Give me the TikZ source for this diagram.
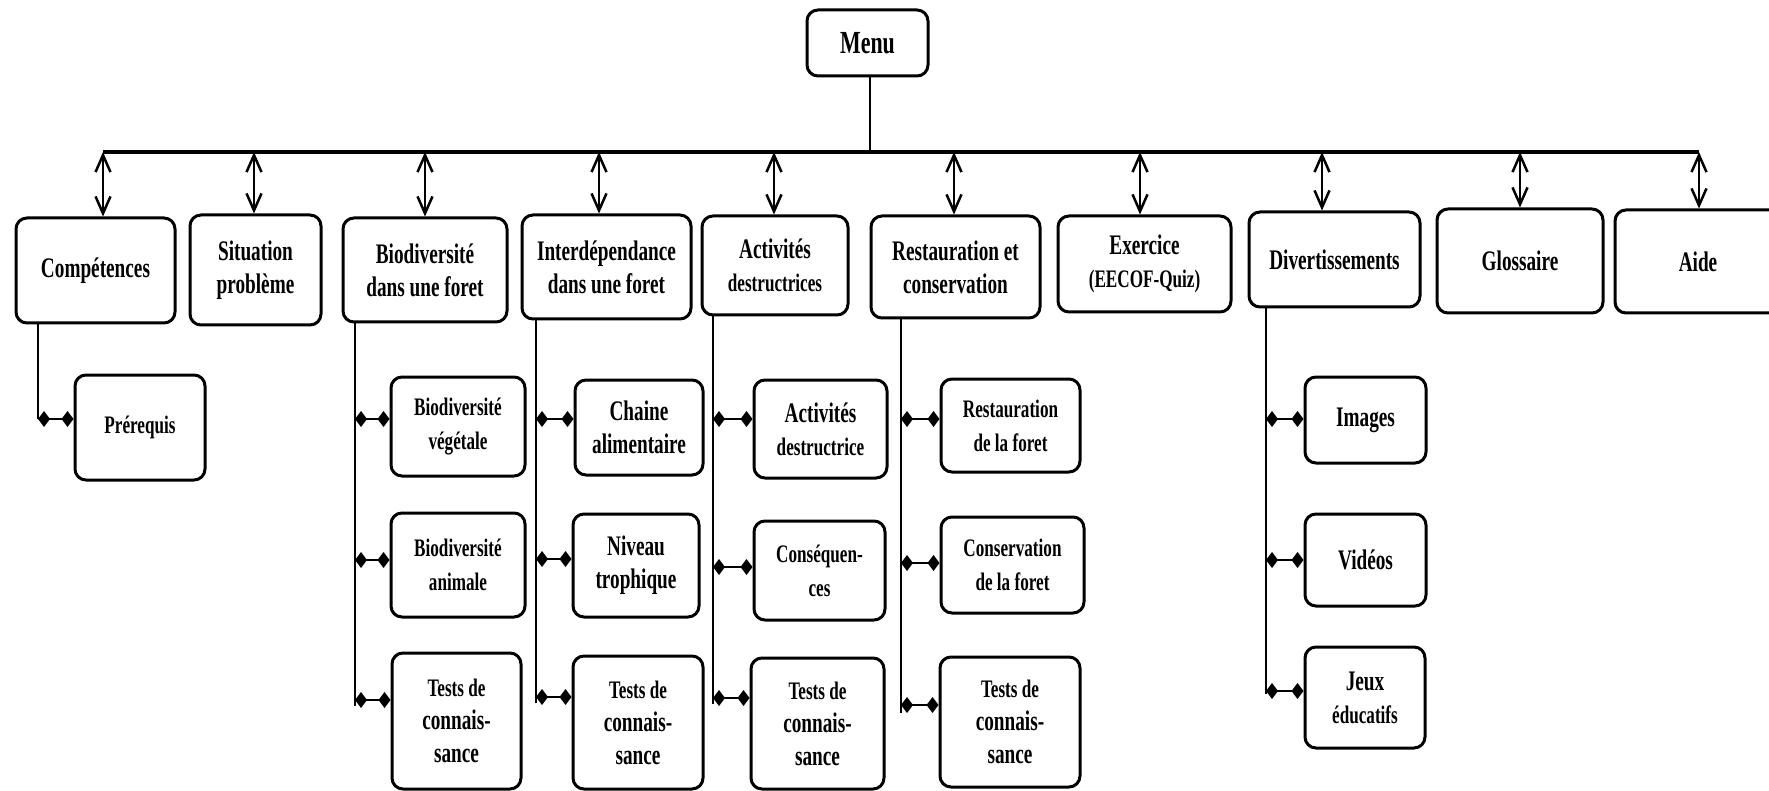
\documentclass[tikz,border=0pt]{standalone}
\usepackage{fontspec}
\setmainfont{Liberation Serif}[FakeStretch=0.68]
\usetikzlibrary{arrows.meta}
\newcommand\topf{\fontsize{28.3}{33}\selectfont\bfseries}
\newcommand\chf{\fontsize{25.2}{34}\selectfont\bfseries}
\newcommand\menuf{\fontsize{32.2}{36}\selectfont\bfseries}
% style, name, x1, y1, x2, y2, text
\newcommand\mkbox[7]{\node[#1, minimum width={(#5)-(#3)}, minimum height={(#6)-(#4)}] (#2) at ({((#3)+(#5))/2},{((#4)+(#6))/2}) {#7};}
\tikzset{
  basebox/.style={draw, line width=3pt, rounded corners=11pt, align=center, inner sep=0pt},
  topbox/.style={basebox, font=\topf},
  childbox/.style={basebox, font=\chf},
  menubox/.style={basebox, font=\menuf},
  dbl/.style={line width=2.5pt, {Straight Barb[length=17pt,width=15pt]}-{Straight Barb[length=17pt,width=15pt]}},
  bus/.style={line width=3.5pt},
  stem/.style={line width=2.5pt},
  dconn/.style={line width=2.5pt, {Diamond[length=12pt,width=16pt]}-{Diamond[length=12pt,width=16pt]}}
}
\begin{document}
\begin{tikzpicture}[x=1pt,y=-1pt]
\useasboundingbox (0,0) rectangle (1769,791);
% Menu
\mkbox{menubox}{menu}{807}{10}{928}{76}{Menu}
% bus
\coordinate (busL) at (103,152);
\coordinate (busR) at (1699,152);
\draw[bus] (busL) -- (busR);
\draw[stem] (menu.south -| 870,0) -- (870,150);
% top level boxes
\mkbox{topbox}{comp}{16}{218}{175}{323}{Compétences}
\mkbox{topbox}{sit}{190}{215}{321}{325}{Situation\\problème}
\mkbox{topbox}{bio}{343}{218}{507}{322}{Biodiversité\\dans une foret}
\mkbox{topbox}{inter}{522}{215}{691}{319}{Interdépendance\\dans une foret}
\mkbox{topbox}{act}{702}{216}{848}{315}{Activités\\{\chf destructrices}}
\mkbox{topbox}{rest}{871}{216}{1040}{318}{Restauration et\\conservation}
\mkbox{topbox}{exo}{1058}{216}{1231}{312}{Exercice\\{\chf (EECOF-Quiz)}}
\mkbox{topbox}{div}{1249}{212}{1420}{307}{Divertissements}
\mkbox{topbox}{glo}{1437}{209}{1603}{313}{Glossaire}
\mkbox{topbox}{aide}{1615}{210}{1781}{313}{Aide}
% arrows from bus
\foreach \n/\x in {comp/103,sit/254,bio/425,inter/599,act/774,rest/954,exo/1140,div/1322,glo/1520,aide/1699}{
  \coordinate (a-\n) at (\x,152);
  \draw[dbl] (a-\n) -- (a-\n |- \n.north);
}
% children
\mkbox{childbox}{pre}{75}{375}{205}{480}{Prérequis}
\mkbox{childbox}{bv}{391}{377}{525}{476}{Biodiversité\\végétale}
\mkbox{childbox}{ba}{391}{513}{525}{617}{Biodiversité\\animale}
\mkbox{topbox}{bt}{392}{653}{521}{789}{{\chf Tests de}\\connais-\\sance}
\mkbox{topbox}{ic}{575}{380}{703}{475}{Chaine\\alimentaire}
\mkbox{topbox}{in}{573}{514}{699}{617}{Niveau\\trophique}
\mkbox{topbox}{it}{573}{656}{703}{789}{{\chf Tests de}\\connais-\\sance}
\mkbox{topbox}{ad}{754}{380}{887}{478}{Activités\\{\chf destructrice}}
\mkbox{childbox}{ac}{754}{521}{885}{620}{Conséquen-\\ces}
\mkbox{topbox}{at}{751}{658}{884}{789}{{\chf Tests de}\\connais-\\sance}
\mkbox{childbox}{rr}{941}{379}{1080}{472}{Restauration\\de la foret}
\mkbox{childbox}{rc}{941}{517}{1084}{613}{Conservation\\de la foret}
\mkbox{topbox}{rt}{940}{657}{1080}{787}{{\chf Tests de}\\connais-\\sance}
\mkbox{topbox}{di}{1305}{377}{1426}{463}{Images}
\mkbox{topbox}{dv}{1305}{514}{1426}{606}{Vidéos}
\mkbox{topbox}{dj}{1305}{647}{1425}{748}{Jeux\\{\chf éducatifs}}
% stems and diamond connectors
\foreach \p/\sx/\last/\kids in {
  comp/38/419/{pre/419},
  bio/355/706/{bv/419,ba/560,bt/700},
  inter/536/703/{ic/419,in/559,it/697},
  act/713/704/{ad/419,ac/567,at/698},
  rest/901/713/{rr/419,rc/563,rt/705},
  div/1266/694/{di/419,dv/560,dj/691}}{
  \coordinate (s-\p) at (\sx,\last);
  \draw[stem] (\p.south -| s-\p) -- (s-\p);
  \foreach \k/\cy in \kids {
    \coordinate (c-\k) at (\sx,\cy);
    \draw[dconn] (c-\k) -- (c-\k -| \k.west);
  }
}
\end{tikzpicture}
\end{document}
